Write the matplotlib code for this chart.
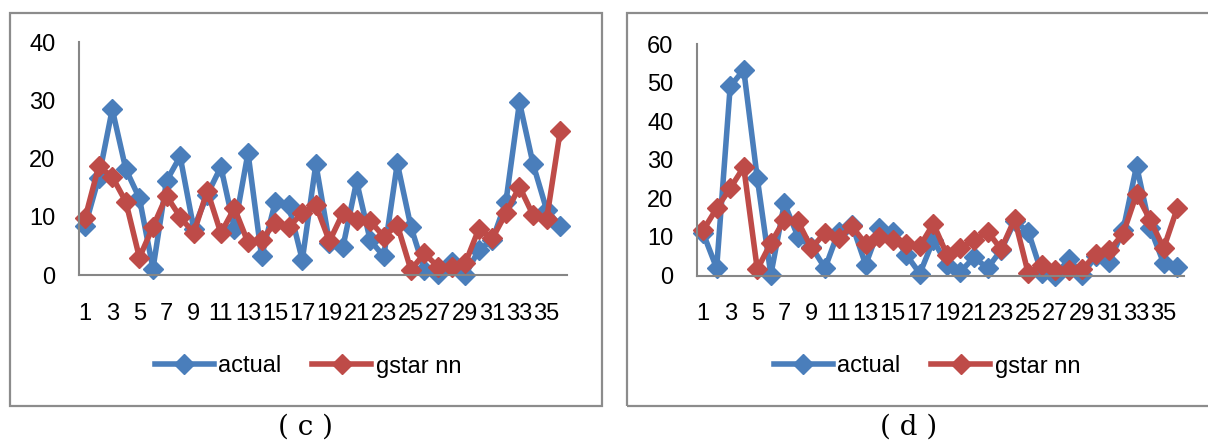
import matplotlib
matplotlib.use('Agg')
import matplotlib.pyplot as plt
from matplotlib.patches import Rectangle

###################################################################
## data

periods = list(range(1, 37))
tick_pos = list(range(1, 36, 2))

actual_c = [8.4, 16.7, 28.5, 18.2, 13.2, 1.1, 16.2, 20.4, 8.0, 13.8,
            18.6, 8.0, 21.0, 3.2, 12.5, 12.0, 2.6, 19.1, 5.5, 4.9,
            16.1, 6.0, 3.2, 19.2, 8.3, 0.9, 0.1, 2.3, 0.0, 4.3,
            6.0, 12.6, 29.7, 19.1, 11.2, 8.4]
gstar_c = [9.8, 18.7, 16.9, 12.6, 3.0, 8.3, 13.6, 10.0, 7.2, 14.5,
           7.2, 11.5, 5.6, 6.1, 8.9, 8.3, 10.6, 12.0, 5.8, 10.7,
           9.5, 9.3, 6.6, 8.6, 0.9, 3.7, 1.4, 1.4, 2.0, 7.9,
           6.3, 10.6, 15.2, 10.3, 9.6, 24.8]

actual_d = [11.0, 1.9, 49.0, 53.3, 25.2, 0.2, 18.7, 10.1, 7.5, 1.9,
            11.4, 13.1, 2.8, 12.3, 11.4, 5.4, 0.5, 9.2, 2.8, 1.0,
            4.7, 1.9, 6.6, 14.0, 11.4, 0.6, 0.0, 4.2, 0.2, 5.1,
            3.6, 11.7, 28.4, 12.3, 3.2, 2.3]
gstar_d = [11.7, 17.4, 22.6, 28.1, 1.6, 8.4, 14.4, 14.0, 7.1, 11.1,
           9.7, 12.7, 8.2, 10.1, 9.2, 8.2, 7.6, 13.4, 5.4, 7.1,
           9.2, 11.4, 6.8, 14.6, 0.6, 2.8, 1.3, 1.5, 1.6, 5.6,
           6.6, 10.8, 21.1, 14.4, 7.1, 17.4]

panels = [
    # (actual, gstar, ymax, caption)
    (actual_c, gstar_c, 40, '( c )'),
    (actual_d, gstar_d, 60, '( d )'),
]

###################################################################
## style

blue = '#4A7EBB'
red = '#BE4B48'
axis_grey = '#868686'
box_grey = '#8C8C8C'
font = ['Liberation Sans', 'DejaVu Sans']

###################################################################
## plotting

fig = plt.figure(figsize=(12.08, 4.44), dpi=100)

## panel frames (pixel coordinates -> figure fraction)
W, H = 1208., 444.
frames = [(10, 13.5, 602, 406), (627, 13.5, 1240, 406)]
for x0, y0, x1, y1 in frames:
    fig.patches.append(Rectangle((x0/W, 1-y1/H), (x1-x0)/W, (y1-y0)/H,
                                 transform=fig.transFigure, fill=False,
                                 edgecolor=box_grey, linewidth=1.6))

axes_px = [(79, 42.5, 567, 275), (697, 44, 1184, 275.5)]
legend_x = [308, 927]
caption_x = [305, 909]

for (act, gst, ymax, cap), (x0, y0, x1, y1), lx, cx in zip(panels, axes_px, legend_x, caption_x):
    ax = fig.add_axes([x0/W, 1-y1/H, (x1-x0)/W, (y1-y0)/H])
    ax.plot(periods, act, color=blue, lw=4, marker='D', ms=10,
            solid_joinstyle='round', label='actual', clip_on=False)
    ax.plot(periods, gst, color=red, lw=4, marker='D', ms=10,
            solid_joinstyle='round', label='gstar nn', clip_on=False)
    ax.set_xlim(0.55, 36.5)
    ax.set_ylim(0, ymax)
    ax.set_yticks(range(0, ymax+1, 10))
    ax.set_xticks(tick_pos)
    ax.set_xticklabels([str(t) for t in tick_pos])
    for s in ['top', 'right']:
        ax.spines[s].set_visible(False)
    for s in ['left', 'bottom']:
        ax.spines[s].set_color(axis_grey)
        ax.spines[s].set_linewidth(1.5)
    ax.tick_params(axis='both', length=0, labelsize=17)
    ax.tick_params(axis='y', pad=17)
    ax.tick_params(axis='x', pad=20)
    for lab in ax.get_xticklabels() + ax.get_yticklabels():
        lab.set_family(font)

    ax.legend(loc='center', bbox_to_anchor=(lx/W, 1-366.5/H),
              bbox_transform=fig.transFigure, ncol=2, frameon=False,
              prop={'family': font, 'size': 17}, handlelength=2.5,
              handletextpad=0.2, columnspacing=1.3)

    fig.text(cx/W, 1-427/H, cap, ha='center', va='center', fontsize=20,
             family=['DejaVu Serif'])

fig.savefig('out.png', dpi=100)
